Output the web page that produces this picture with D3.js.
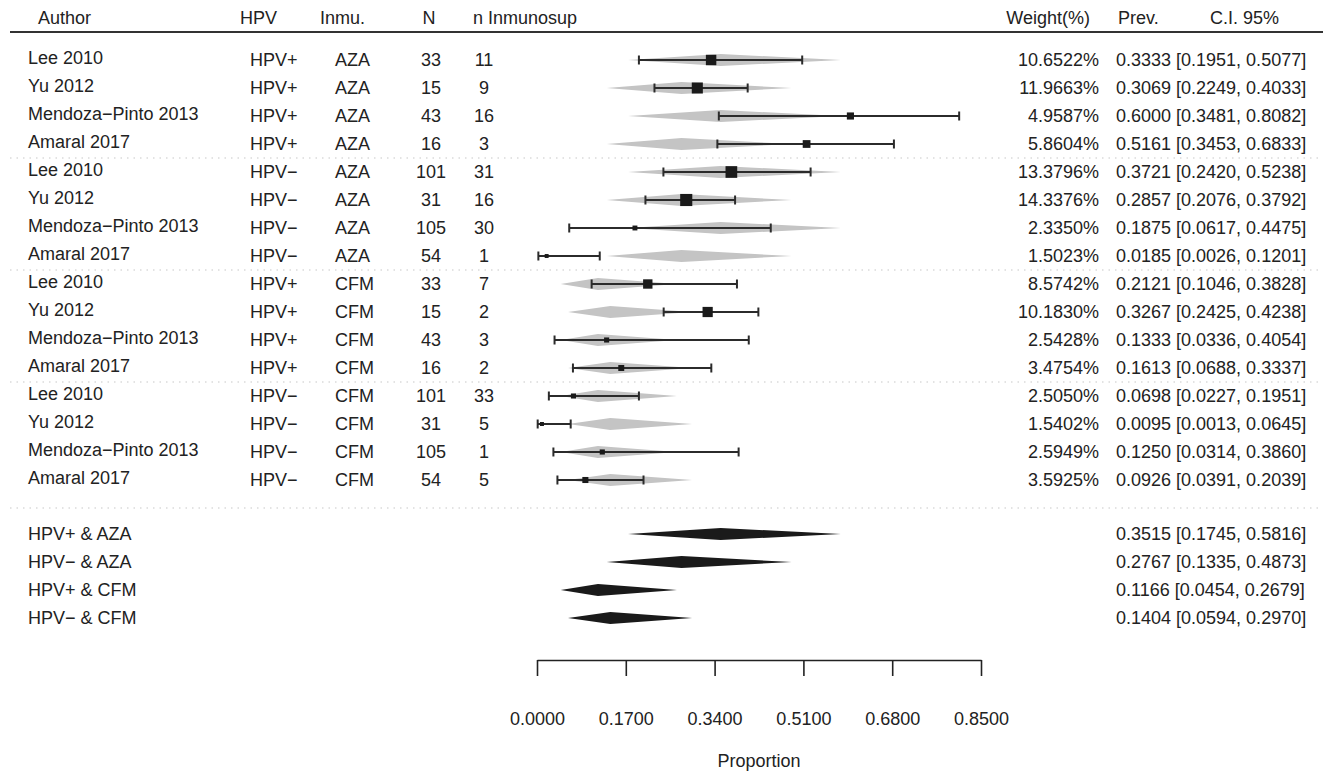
<!DOCTYPE html>
<html lang="en">
<head>
    <meta charset="UTF-8">
    <title>forest plot</title>
    <script src="https://d3js.org/d3.v7.min.js"></script>
</head>
<style>
    * {
        margin: 0;
        padding: 0;
    }
    body {
        background: #fff;
    }
    text {
        font-family: "Liberation Sans", Arial, Helvetica, sans-serif;
        font-size: 18px;
        fill: #222;
    }
</style>
<body>
<script>
    // study rows
    var authors = ["Lee 2010", "Yu 2012", "Mendoza\u2212Pinto 2013", "Amaral 2017",
                   "Lee 2010", "Yu 2012", "Mendoza\u2212Pinto 2013", "Amaral 2017",
                   "Lee 2010", "Yu 2012", "Mendoza\u2212Pinto 2013", "Amaral 2017",
                   "Lee 2010", "Yu 2012", "Mendoza\u2212Pinto 2013", "Amaral 2017"]
    var hpv = ["HPV+", "HPV+", "HPV+", "HPV+", "HPV\u2212", "HPV\u2212", "HPV\u2212", "HPV\u2212",
               "HPV+", "HPV+", "HPV+", "HPV+", "HPV\u2212", "HPV\u2212", "HPV\u2212", "HPV\u2212"]
    var inmu = ["AZA", "AZA", "AZA", "AZA", "AZA", "AZA", "AZA", "AZA",
                "CFM", "CFM", "CFM", "CFM", "CFM", "CFM", "CFM", "CFM"]
    var nTotal = [33, 15, 43, 16, 101, 31, 105, 54, 33, 15, 43, 16, 101, 31, 105, 54]
    var nInmuno = [11, 9, 16, 3, 31, 16, 30, 1, 7, 2, 3, 2, 33, 5, 1, 5]
    var weights = [10.6522, 11.9663, 4.9587, 5.8604, 13.3796, 14.3376, 2.3350, 1.5023,
                   8.5742, 10.1830, 2.5428, 3.4754, 2.5050, 1.5402, 2.5949, 3.5925]
    var prev = [0.3333, 0.3069, 0.6000, 0.5161, 0.3721, 0.2857, 0.1875, 0.0185,
                0.2121, 0.3267, 0.1333, 0.1613, 0.0698, 0.0095, 0.1250, 0.0926]
    var lower = [0.1951, 0.2249, 0.3481, 0.3453, 0.2420, 0.2076, 0.0617, 0.0026,
                 0.1046, 0.2425, 0.0336, 0.0688, 0.0227, 0.0013, 0.0314, 0.0391]
    var upper = [0.5077, 0.4033, 0.8082, 0.6833, 0.5238, 0.3792, 0.4475, 0.1201,
                 0.3828, 0.4238, 0.4054, 0.3337, 0.1951, 0.0645, 0.3860, 0.2039]
    // which pooled diamond is drawn in grey behind each study
    var greyIdx = [0, 1, 0, 1, 0, 1, 0, 1, 2, 3, 2, 3, 2, 3, 2, 3]

    // pooled rows
    var sumLabels = ["HPV+ & AZA", "HPV\u2212 & AZA", "HPV+ & CFM", "HPV\u2212 & CFM"]
    var sumEst = [0.3515, 0.2767, 0.1166, 0.1404]
    var sumLower = [0.1745, 0.1335, 0.0454, 0.0594]
    var sumUpper = [0.5816, 0.4873, 0.2679, 0.2970]

    var ticks = [0, 0.17, 0.34, 0.51, 0.68, 0.85]

    var width = 1327, height = 772

    var svg = d3.select("body")
            .append("svg")
            .attr("width", width)
            .attr("height", height)

    var x = d3.scaleLinear().domain([0, 0.85]).range([537, 981])
    var y = d3.scaleLinear().domain([0, 1]).range([60, 88])          // study rows
    var ys = d3.scaleLinear().domain([0, 1]).range([534, 562])       // pooled rows

    var f4 = d3.format(".4f")

    // header
    var head = svg.append("g")
    head.append("text").attr("x", 38).attr("y", 24).text("Author")
    head.append("text").attr("x", 240).attr("y", 24).text("HPV")
    head.append("text").attr("x", 320).attr("y", 24).text("Inmu.")
    head.append("text").attr("x", 429).attr("y", 24).attr("text-anchor", "middle").text("N")
    head.append("text").attr("x", 473).attr("y", 24).text("n Inmunosup")
    head.append("text").attr("x", 1090).attr("y", 24).attr("text-anchor", "end").text("Weight(%)")
    head.append("text").attr("x", 1118).attr("y", 24).text("Prev.")
    head.append("text").attr("x", 1210).attr("y", 24).text("C.I. 95%")
    svg.append("line")
        .attr("x1", 10).attr("x2", 1323)
        .attr("y1", 32).attr("y2", 32)
        .attr("stroke", "#333").attr("stroke-width", 2)

    // dotted separators
    var seps = [158, 270, 382, 508]
    svg.selectAll(".sep")
        .data(seps)
        .enter()
        .append("line")
        .attr("class", "sep")
        .attr("x1", 10).attr("x2", 1323)
        .attr("y1", function(d) {return d})
        .attr("y2", function(d) {return d})
        .attr("stroke", "#c8c8c8")
        .attr("stroke-width", 1.2)
        .attr("stroke-dasharray", "1.5,5")

    function diamond(lo, est, hi, cy, h) {
        return "M" + x(lo) + "," + cy + "L" + x(est) + "," + (cy - h) +
               "L" + x(hi) + "," + cy + "L" + x(est) + "," + (cy + h) + "Z"
    }

    var idx = d3.range(authors.length)

    // grey pooled diamonds behind studies
    svg.selectAll(".grey")
        .data(idx)
        .enter()
        .append("path")
        .attr("class", "grey")
        .attr("d", function(i) {
            var k = greyIdx[i]
            return diamond(sumLower[k], sumEst[k], sumUpper[k], y(i), 6)
        })
        .attr("fill", "#c4c4c4")

    // confidence intervals
    var ci = svg.selectAll(".ci")
        .data(idx)
        .enter()
        .append("g")
        .attr("class", "ci")
        .attr("stroke", "#2b2b2b")
        .attr("stroke-width", 2)
    ci.append("line")
        .attr("x1", function(i) {return x(lower[i])})
        .attr("x2", function(i) {return x(upper[i])})
        .attr("y1", function(i) {return y(i)})
        .attr("y2", function(i) {return y(i)})
    ci.append("line")
        .attr("x1", function(i) {return x(lower[i])})
        .attr("x2", function(i) {return x(lower[i])})
        .attr("y1", function(i) {return y(i) - 4.5})
        .attr("y2", function(i) {return y(i) + 4.5})
    ci.append("line")
        .attr("x1", function(i) {return x(upper[i])})
        .attr("x2", function(i) {return x(upper[i])})
        .attr("y1", function(i) {return y(i) - 4.5})
        .attr("y2", function(i) {return y(i) + 4.5})

    // weight squares
    svg.selectAll(".sq")
        .data(idx)
        .enter()
        .append("rect")
        .attr("class", "sq")
        .attr("x", function(i) {return x(prev[i]) - 1.6 * Math.sqrt(weights[i])})
        .attr("y", function(i) {return y(i) - 1.6 * Math.sqrt(weights[i])})
        .attr("width", function(i) {return 3.2 * Math.sqrt(weights[i])})
        .attr("height", function(i) {return 3.2 * Math.sqrt(weights[i])})
        .attr("fill", "#1a1a1a")

    // study text columns
    var rows = svg.selectAll(".row")
        .data(idx)
        .enter()
        .append("g")
        .attr("class", "row")
    rows.append("text").attr("x", 28).attr("y", function(i) {return y(i) + 4}).text(function(i) {return authors[i]})
    rows.append("text").attr("x", 250).attr("y", function(i) {return y(i) + 6}).text(function(i) {return hpv[i]})
    rows.append("text").attr("x", 335).attr("y", function(i) {return y(i) + 6}).text(function(i) {return inmu[i]})
    rows.append("text").attr("x", 431).attr("y", function(i) {return y(i) + 6})
        .attr("text-anchor", "middle").text(function(i) {return nTotal[i]})
    rows.append("text").attr("x", 484).attr("y", function(i) {return y(i) + 6})
        .attr("text-anchor", "middle").text(function(i) {return nInmuno[i]})
    rows.append("text").attr("x", 1099).attr("y", function(i) {return y(i) + 6})
        .attr("text-anchor", "end").text(function(i) {return f4(weights[i]) + "%"})
    rows.append("text").attr("x", 1116).attr("y", function(i) {return y(i) + 6})
        .text(function(i) {return f4(prev[i]) + " [" + f4(lower[i]) + ", " + f4(upper[i]) + "]"})

    // pooled rows
    var sidx = d3.range(sumLabels.length)
    svg.selectAll(".pool")
        .data(sidx)
        .enter()
        .append("path")
        .attr("class", "pool")
        .attr("d", function(k) {return diamond(sumLower[k], sumEst[k], sumUpper[k], ys(k), 6)})
        .attr("fill", "#1a1a1a")
    var srows = svg.selectAll(".srow")
        .data(sidx)
        .enter()
        .append("g")
        .attr("class", "srow")
    srows.append("text").attr("x", 28).attr("y", function(k) {return ys(k) + 6}).text(function(k) {return sumLabels[k]})
    srows.append("text").attr("x", 1116).attr("y", function(k) {return ys(k) + 6})
        .text(function(k) {return f4(sumEst[k]) + " [" + f4(sumLower[k]) + ", " + f4(sumUpper[k]) + "]"})

    // x axis
    var axis = svg.append("g")
        .attr("transform", "translate(0,660)")
        .call(d3.axisBottom(x)
            .tickValues(ticks)
            .tickSize(16)
            .tickSizeOuter(0)
            .tickPadding(36)
            .tickFormat(f4))
    axis.select(".domain").attr("stroke", "#222").attr("stroke-width", 1.6)
    axis.selectAll(".tick line").attr("stroke", "#222").attr("stroke-width", 1.6)
    axis.selectAll(".tick text")
        .attr("font-family", "Liberation Sans, Arial, sans-serif")
        .attr("font-size", "18px")
        .attr("fill", "#222")

    svg.append("text")
        .attr("x", 759).attr("y", 767)
        .attr("text-anchor", "middle")
        .text("Proportion")
</script>
</body>
</html>
